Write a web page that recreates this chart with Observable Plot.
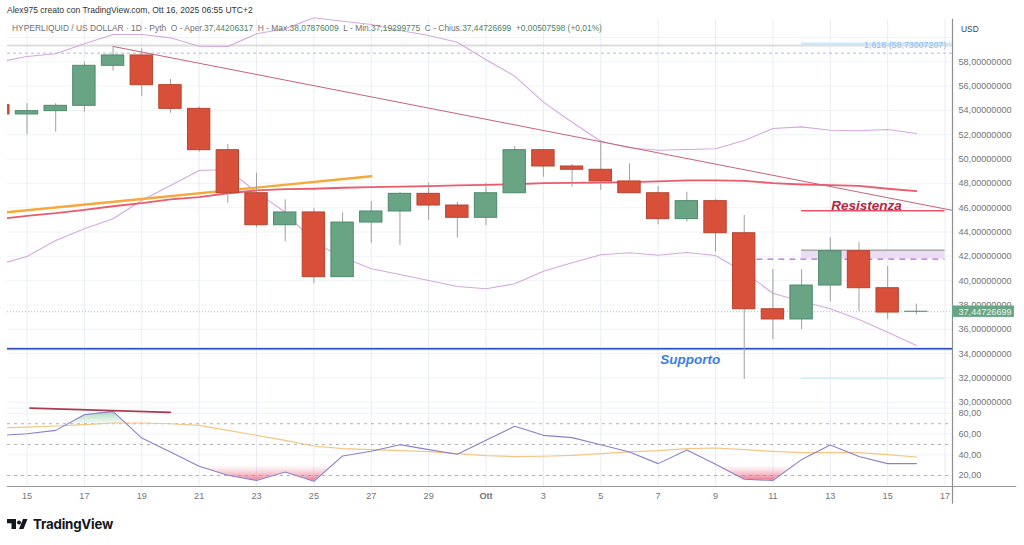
<!DOCTYPE html>
<html><head><meta charset="utf-8">
<script src="https://cdn.jsdelivr.net/npm/d3@7"></script>
<script src="https://cdn.jsdelivr.net/npm/@observablehq/plot@0.6"></script>
<style>
html,body{margin:0;padding:0;background:#fff}
#page{position:relative;width:1024px;height:545px;overflow:hidden;font-family:"Liberation Sans",sans-serif}
#page>div svg{display:block}
.t{position:absolute;white-space:pre;line-height:1}
#author{left:7px;top:6px;font-size:8.55px;color:#333}
#legend{left:12px;top:24px;font-size:8.42px;color:#707070}
#legend b{font-weight:normal;color:#4d8465}
#usd{left:961px;top:25px;font-size:8.4px;color:#444}
#brand{left:33px;top:518px;font-size:13.3px;font-weight:700;color:#131722;font-family:Inter,"Liberation Sans",sans-serif;letter-spacing:-.2px}
#logo{position:absolute;left:7px;top:519px}
</style></head><body>
<div id="page">
<div id="price"></div><div id="osc"></div>
<div class="t" id="author">Alex975 creato con TradingView.com, Ott 16, 2025 06:55 UTC+2</div>
<div class="t" id="legend">HYPERLIQUID / US DOLLAR · 1D · Pyth  O - Aper.<b>37,44206317</b>  H - Max.<b>38,07876009</b>  L - Min.<b>37,19299775</b>  C - Chius.<b>37,44726699</b>  <b>+0,00507598 (+0,01%)</b></div>
<div class="t" id="usd">USD</div>
<svg id="logo" width="21" height="11" viewBox="0 0 21 11"><path fill="#131722" d="M0 0H9V10H4.5V4.2H0ZM10 3.6a2 2 0 1 0 0-.01ZM16 0H20.5L16.5 10H12Z"/></svg>
<div class="t" id="brand">TradingView</div>
</div>
<script>
const days   = [-1,0,1,2,3,4,5,6,7,8,9,10,11,12,13,14,15,16,17,18,19,20,21,22,23,24,25,26,27,28,29,30,31];
const opens  = [54.43,53.67,53.94,54.38,57.67,58.52,56.08,54.13,50.73,47.19,44.56,45.61,40.29,44.78,45.69,47.14,46.18,45.17,47.19,50.73,49.39,49.12,48.16,47.19,45.06,46.54,43.90,37.65,36.81,39.60,42.42,39.38,37.442];
const highs  = [54.60,54.55,54.55,57.97,59.28,59.07,56.54,54.27,51.20,48.84,46.65,45.91,45.58,46.51,47.23,48.02,46.43,48.02,51.03,50.79,49.55,51.53,49.61,47.74,47.28,46.68,45.36,40.92,40.89,43.53,43.14,41.17,38.08];
const lows   = [53.50,52.02,52.21,53.85,57.23,55.15,53.77,50.57,46.37,44.35,43.20,39.74,40.29,43.08,42.89,44.95,43.49,44.54,47.19,48.51,47.69,47.42,47.19,44.60,44.81,42.34,31.87,35.16,35.98,38.23,37.46,36.81,37.19];
const closes = [53.67,53.94,54.38,57.67,58.52,56.08,54.13,50.73,47.19,44.56,45.61,40.29,44.78,45.69,47.14,46.18,45.17,47.19,50.73,49.39,49.12,48.16,47.19,45.06,46.54,43.90,37.65,36.81,39.60,42.42,39.38,37.38,37.447];
const upperBand = [57.97,58.44,58.66,59.48,60.25,60.25,59.97,59.28,59.26,60.30,60.71,61.62,61.34,61.07,60.57,60.16,59.61,58.16,56.82,54.68,53.03,51.47,50.93,50.73,50.79,50.85,51.53,52.51,52.65,52.37,52.33,52.43,52.10];
const lowerBand = [41.33,41.99,43.30,44.27,45.09,46.59,47.83,49.06,49.14,47.28,45.63,43.16,41.93,40.98,40.51,40.02,39.52,39.33,39.74,40.78,41.47,42.13,42.29,42.09,42.32,42.07,40.70,38.97,38.29,37.69,36.81,35.76,34.67];
const redAvg = [45.07,45.33,45.55,45.83,46.12,46.37,46.68,46.87,47.19,47.42,47.52,47.56,47.64,47.69,47.74,47.77,47.83,47.88,47.93,48.02,48.05,48.07,48.10,48.16,48.24,48.24,48.21,48.02,47.91,47.85,47.80,47.56,47.36];
const rsi    = [58.5,60.4,63.6,78.7,81.9,56.2,42.8,28.9,20.3,15.2,23.5,14.5,38.9,43.4,49.8,45.0,40.5,54.0,67.5,58.8,56.6,49.8,42.8,31.5,44.7,30.9,16.4,15.2,35.4,49.5,38.3,31.5,31.5];
const rsiAvg = [65.9,66.8,67.8,69.1,70.7,70.7,70.0,68.4,63.6,58.8,54.0,48.5,46.0,45.0,44.0,43.0,41.2,39.2,38.3,38.6,39.5,41.2,42.8,44.0,46.0,46.6,45.0,43.4,42.1,42.1,42.1,40.2,37.9];
const orangeTrend = [{day:-1,p:45.56},{day:4,p:46.72},{day:12,p:48.59}];
const pinkTrend = [{day:3,p:59.26},{day:32.26,p:45.78}];
const rsiTrend = [{day:0.1,v:85.1},{day:5,v:81}];
const hotZone  = [{day:1.43,v:70},{day:2,v:78.7},{day:3,v:81.9},{day:3.46,v:70}];
const coldZoneA = [{day:6,v:28.9},{day:7,v:20.3},{day:8,v:15.2},{day:9,v:23.5},{day:10,v:14.5},{day:10.59,v:28.9}];
const coldZoneB = [{day:24.13,v:28.9},{day:25,v:16.4},{day:26,v:15.2},{day:26.68,v:28.9}];
const priceTicks = d3.range(30,60,2);
const gridDays = d3.range(0,33,2);
const dayLabels = ["15","17","19","21","23","25","27","29","Ott","3","5","7","9","11","13","15","17"];
const rsiTicks = [20,40,60,80];
const rsiLevels = [70,50,20];
const lastPrice = 37.44726699;
const supportLevel = 34.40, resistLevel = 45.75, zoneTop = 42.50, zoneBottom = 41.77, fib1618 = 58.71, fibLine = 59.34, fibLow = 31.98;

const rows = days.map((day,i)=>({day,open:opens[i],high:highs[i],low:lows[i],close:closes[i],up:upperBand[i],lo:lowerBand[i],ma:redAvg[i],rsi:rsi[i],rsiMa:rsiAvg[i]}));
const green="#69a585",greenD="#4e8a6b",red="#d8503a",redD="#b5442f";
const fmtP = d=>d.toFixed(8).replace(".",","), fmtR = d=>d.toFixed(2).replace(".",",");
const base = {width:1024,marginLeft:7,marginRight:72,marginTop:0,style:{background:"transparent",fontFamily:'"Liberation Sans",sans-serif'}};
const xDomain = [-0.68,32.26];
const R = 32.26, FR = 34.42;

const pricePlot = Plot.plot({...base,height:407,marginBottom:0,
  x:{domain:xDomain,axis:null},
  y:{domain:[29.57,63.04]},
  marks:[
    Plot.ruleY(d3.range(30,62,2),{stroke:"#f0f3f7",strokeWidth:1}),
    Plot.ruleX(gridDays,{y1:29.57,y2:61.5,stroke:"#e9edf3",strokeWidth:1}),
    Plot.ruleY([fibLine],{stroke:"#dcdcdc",strokeWidth:2}),
    Plot.ruleY([59.46],{x1:27,x2:R,stroke:"#d2e7f6",strokeWidth:3}),
    Plot.ruleY([fib1618],{stroke:"#a8b9f6",strokeWidth:1,strokeDasharray:"3,3"}),
    Plot.ruleY([fibLow],{x1:27,x2:32,stroke:"#bfe9f0",strokeWidth:1}),
    Plot.ruleY([lastPrice],{stroke:"#b9b9b9",strokeWidth:1,strokeDasharray:"1,2"}),
    Plot.line(rows,{x:"day",y:"up",stroke:"#d6a8e0",strokeWidth:1.1,clip:true}),
    Plot.line(rows,{x:"day",y:"lo",stroke:"#d6a8e0",strokeWidth:1.1,clip:true}),
    Plot.rect([{a:27,b:32}],{x1:"a",x2:"b",y1:zoneTop,y2:zoneBottom,fill:"#ecdcf3"}),
    Plot.ruleY([zoneTop],{x1:27,x2:32,stroke:"#a9a9a9",strokeWidth:1.6}),
    Plot.ruleY([zoneBottom],{x1:25.44,x2:32,stroke:"#b36bd6",strokeWidth:1.2,strokeDasharray:"6,5"}),
    Plot.line(orangeTrend,{x:"day",y:"p",stroke:"#f4a93a",strokeWidth:2.4,clip:true}),
    Plot.line(rows,{x:"day",y:"ma",stroke:"#ec5a6b",strokeWidth:1.8,clip:true}),
    Plot.line(pinkTrend,{x:"day",y:"p",stroke:"#c9627c",strokeWidth:1}),
    Plot.ruleY([supportLevel],{stroke:"#cfe0fb",strokeWidth:3}),
    Plot.ruleY([supportLevel],{stroke:"#2f4fbf",strokeWidth:1.4}),
    Plot.ruleY([resistLevel],{x1:27,x2:32,stroke:"#e8506a",strokeWidth:1.3}),
    Plot.ruleX(rows,{x:"day",y1:"low",y2:"high",stroke:"#a0a0a0",strokeWidth:1,clip:true}),
    Plot.rect(rows.filter(d=>d.close>=d.open),{x1:d=>d.day-.39,x2:d=>d.day+.39,y1:"open",y2:"close",fill:green,stroke:greenD,strokeWidth:1,clip:true}),
    Plot.rect(rows.filter(d=>d.close<d.open),{x1:d=>d.day-.39,x2:d=>d.day+.39,y1:"open",y2:"close",fill:red,stroke:redD,strokeWidth:1,clip:true}),
    Plot.text(["Supporto"],{x:23.12,y:33.5,text:d=>d,fill:"#3b7de6",fontSize:13.5,fontWeight:"bold",fontStyle:"italic"}),
    Plot.text(["Resistenza"],{x:29.26,y:46.18,text:d=>d,fill:"#b3283f",fontSize:13.5,fontWeight:"bold",fontStyle:"italic"}),
    Plot.text(["1,618 (58,73007207)"],{x:32.04,y:59.34,text:d=>d,textAnchor:"end",fill:"#93bdf0",fontSize:8.85}),
    Plot.axisY({anchor:"right",ticks:priceTicks,tickSize:0,tickPadding:6,tickFormat:fmtP,fill:"#757575",fontSize:9.1}),
    Plot.ruleX([R],{y1:29.57,y2:61.5,stroke:"#8e8e8e",strokeWidth:1.2}),
    Plot.rect([{a:R,b:FR}],{x1:"a",x2:"b",y1:lastPrice-.47,y2:lastPrice+.47,fill:green}),
    Plot.text([lastPrice],{x:R,y:d=>d,dx:6,text:fmtP,textAnchor:"start",fill:"#e9f3ed",fontSize:9.1})
  ]});

const pinkDefs = () => {
  const g=d3.create("svg:g"), defs=g.append("defs");
  const grad=(id,a,b,ao,bo)=>{const l=defs.append("linearGradient").attr("id",id).attr("x1",0).attr("x2",0).attr("y1",0).attr("y2",1);
    l.append("stop").attr("offset",0).attr("stop-color",a).attr("stop-opacity",ao);
    l.append("stop").attr("offset",1).attr("stop-color",b).attr("stop-opacity",bo);};
  grad("pinkGrad","#f3a6b6","#e8617f",.05,.85);
  grad("greenGrad","#8ccba3","#d6eddd",.85,.35);
  return g.node();
};
const oscPlot = Plot.plot({...base,height:138,marginBottom:59,
  x:{domain:xDomain,axis:null},
  y:{domain:[9.42,85.67]},
  marks:[
    pinkDefs,
    Plot.ruleY([85.1,80,60,40,20],{stroke:"#f0f3f7",strokeWidth:1}),
    Plot.ruleX(gridDays,{y1:9.42,y2:85.67,stroke:"#e9edf3",strokeWidth:1}),
    Plot.ruleY(rsiLevels,{stroke:"#b0b0b0",strokeWidth:1,strokeDasharray:"3,4"}),
    Plot.areaY(hotZone,{x:"day",y1:"v",y2:()=>70,fill:"url(#greenGrad)"}),
    Plot.areaY(coldZoneA,{x:"day",y1:()=>28.9,y2:"v",fill:"url(#pinkGrad)"}),
    Plot.areaY(coldZoneB,{x:"day",y1:()=>28.9,y2:"v",fill:"url(#pinkGrad)"}),
    Plot.line(rows,{x:"day",y:"rsiMa",stroke:"#f6c583",strokeWidth:1.2,clip:true}),
    Plot.line(rows,{x:"day",y:"rsi",stroke:"#8d80cb",strokeWidth:1.1,clip:true}),
    Plot.line(rsiTrend,{x:"day",y:"v",stroke:"#b03a4e",strokeWidth:1.6}),
    Plot.axisY({anchor:"right",ticks:rsiTicks,tickSize:0,tickPadding:6,tickFormat:fmtR,fill:"#757575",fontSize:9.1}),
    Plot.axisX({ticks:gridDays.filter(d=>d!==16),tickSize:0,tickPadding:6,tickFormat:d=>dayLabels[d/2],label:null,fill:"#757575",fontSize:9.1}),
    Plot.axisX({ticks:[16],tickSize:0,tickPadding:6,tickFormat:d=>dayLabels[d/2],label:null,fill:"#757575",fontSize:9.1,fontWeight:"bold"}),
    Plot.ruleY([9.42],{x1:-0.68,x2:FR+.08,stroke:"#9a9a9a",strokeWidth:1}),
    Plot.ruleX([R],{y1:-7.66,y2:85.67,stroke:"#8e8e8e",strokeWidth:1.2})
  ]});
document.getElementById("price").append(pricePlot);
document.getElementById("osc").append(oscPlot);
</script>
</body></html>
